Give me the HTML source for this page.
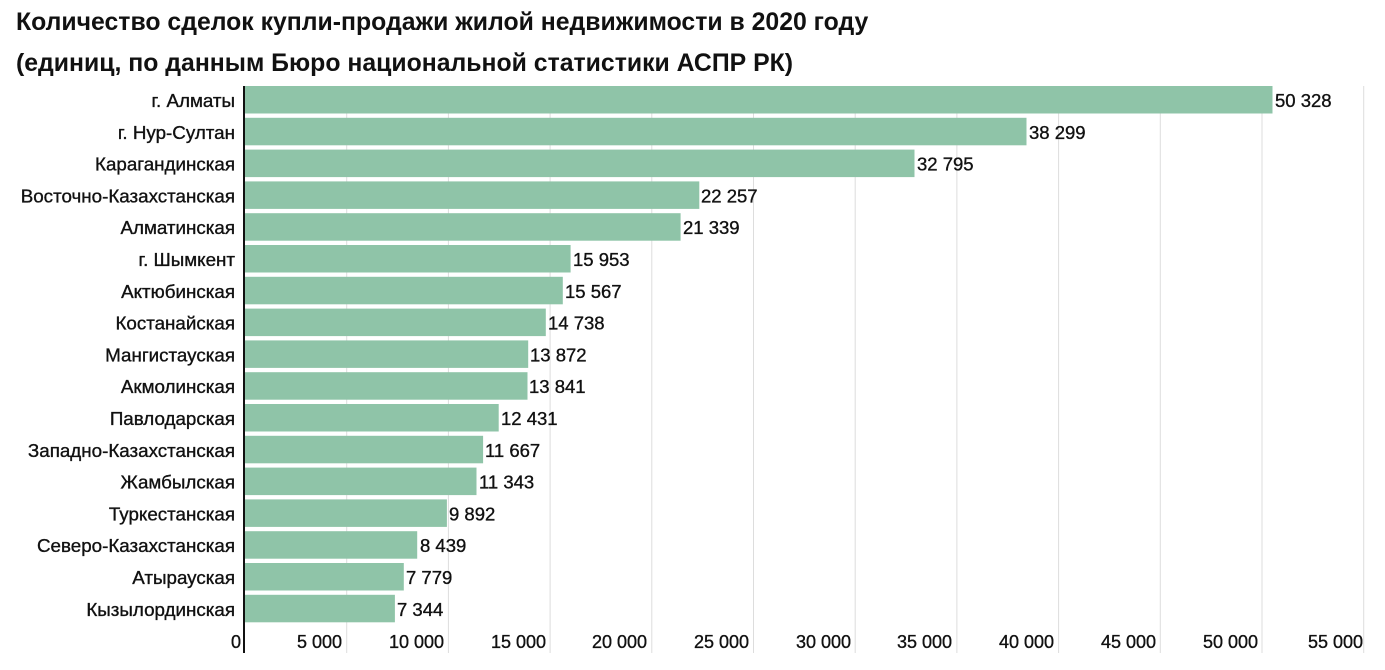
<!DOCTYPE html>
<html><head><meta charset="utf-8"><style>
body{margin:0;background:#fff;width:1385px;height:665px;overflow:hidden;font-family:"Liberation Sans",sans-serif}
</style></head><body>
<svg width="1385" height="665" xmlns="http://www.w3.org/2000/svg" font-family="Liberation Sans, sans-serif">
<text x="16" y="30" font-size="24.8" font-weight="bold" fill="#111">Количество сделок купли-продажи жилой недвижимости в 2020 году</text>
<text x="16" y="71" font-size="24.8" font-weight="bold" fill="#111">(единиц, по данным Бюро национальной статистики АСПР РК)</text>
<g stroke="#ddd" stroke-width="1">
<line x1="346.7" y1="86" x2="346.7" y2="653"/><line x1="448.4" y1="86" x2="448.4" y2="653"/><line x1="550.1" y1="86" x2="550.1" y2="653"/><line x1="651.8" y1="86" x2="651.8" y2="653"/><line x1="753.5" y1="86" x2="753.5" y2="653"/><line x1="855.2" y1="86" x2="855.2" y2="653"/><line x1="956.9" y1="86" x2="956.9" y2="653"/><line x1="1058.6" y1="86" x2="1058.6" y2="653"/><line x1="1160.3" y1="86" x2="1160.3" y2="653"/><line x1="1262" y1="86" x2="1262" y2="653"/><line x1="1363.7" y1="86" x2="1363.7" y2="653"/>
</g>
<g font-size="18" fill="#111" stroke="#111" stroke-width="0.35" text-anchor="end">
<text x="241" y="648">0</text><text x="342" y="648">5 000</text><text x="444" y="648">10 000</text><text x="546" y="648">15 000</text><text x="647" y="648">20 000</text><text x="749" y="648">25 000</text><text x="851" y="648">30 000</text><text x="952" y="648">35 000</text><text x="1054" y="648">40 000</text><text x="1156" y="648">45 000</text><text x="1258" y="648">50 000</text><text x="1363" y="648">55 000</text>
</g>
<g fill="#8fc4a8">
<rect x="245" y="86" width="1027.5" height="27.5"/>
<rect x="245" y="117.8" width="781.5" height="27.5"/>
<rect x="245" y="149.6" width="669.5" height="27.5"/>
<rect x="245" y="181.4" width="454.3" height="27.5"/>
<rect x="245" y="213.2" width="435.6" height="27.5"/>
<rect x="245" y="245" width="325.6" height="27.5"/>
<rect x="245" y="276.8" width="317.8" height="27.5"/>
<rect x="245" y="308.6" width="300.8" height="27.5"/>
<rect x="245" y="340.4" width="283.2" height="27.5"/>
<rect x="245" y="372.2" width="282.5" height="27.5"/>
<rect x="245" y="404" width="253.7" height="27.5"/>
<rect x="245" y="435.8" width="238.1" height="27.5"/>
<rect x="245" y="467.6" width="231.5" height="27.5"/>
<rect x="245" y="499.4" width="201.9" height="27.5"/>
<rect x="245" y="531.2" width="172.2" height="27.5"/>
<rect x="245" y="563" width="158.8" height="27.5"/>
<rect x="245" y="594.8" width="149.9" height="27.5"/>
</g>
<g font-size="18.8" fill="#111" stroke="#111" stroke-width="0.35" text-anchor="end">
<text x="235" y="107">г. Алматы</text>
<text x="235" y="138.8">г. Нур-Султан</text>
<text x="235" y="170.6">Карагандинская</text>
<text x="235" y="202.4">Восточно-Казахстанская</text>
<text x="235" y="234.2">Алматинская</text>
<text x="235" y="266">г. Шымкент</text>
<text x="235" y="297.8">Актюбинская</text>
<text x="235" y="329.6">Костанайская</text>
<text x="235" y="361.4">Мангистауская</text>
<text x="235" y="393.2">Акмолинская</text>
<text x="235" y="425">Павлодарская</text>
<text x="235" y="456.8">Западно-Казахстанская</text>
<text x="235" y="488.6">Жамбылская</text>
<text x="235" y="520.4">Туркестанская</text>
<text x="235" y="552.2">Северо-Казахстанская</text>
<text x="235" y="584">Атырауская</text>
<text x="235" y="615.8">Кызылординская</text>
</g>
<g font-size="18.5" fill="#111" stroke="#111" stroke-width="0.35">
<text x="1275" y="107">50 328</text>
<text x="1029" y="138.8">38 299</text>
<text x="917" y="170.6">32 795</text>
<text x="701" y="202.4">22 257</text>
<text x="683" y="234.2">21 339</text>
<text x="573" y="266">15 953</text>
<text x="565" y="297.8">15 567</text>
<text x="548" y="329.6">14 738</text>
<text x="530" y="361.4">13 872</text>
<text x="529" y="393.2">13 841</text>
<text x="501" y="425">12 431</text>
<text x="485" y="456.8">11 667</text>
<text x="479" y="488.6">11 343</text>
<text x="449" y="520.4">9 892</text>
<text x="420" y="552.2">8 439</text>
<text x="406" y="584">7 779</text>
<text x="397" y="615.8">7 344</text>
</g>
<line x1="244" y1="86" x2="244" y2="653" stroke="#111" stroke-width="2"/>
</svg>
</body></html>
